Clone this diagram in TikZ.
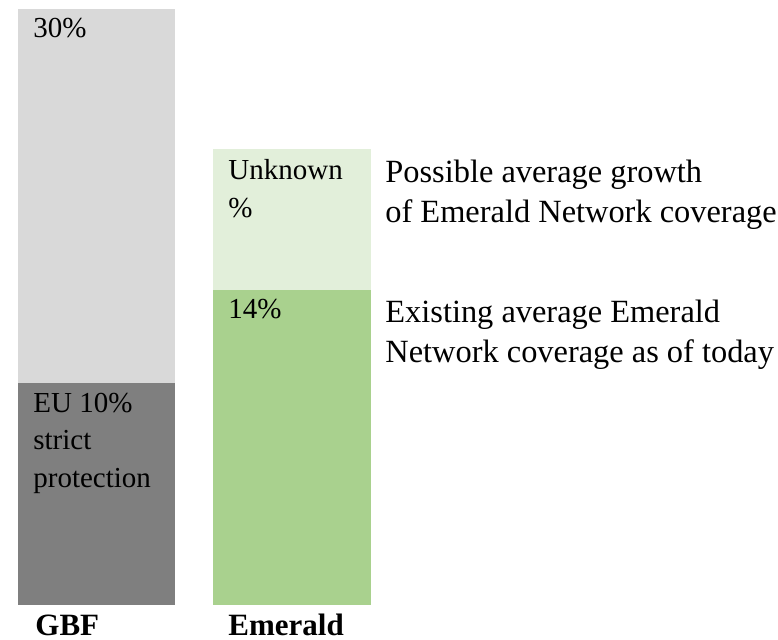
\documentclass[tikz,border=0pt]{standalone}
\usepackage{fontspec}
\setmainfont{Liberation Serif}
\usetikzlibrary{positioning}
\definecolor{gbflight}{HTML}{D9D9D9}
\definecolor{gbfdark}{HTML}{7F7F7F}
\definecolor{emlight}{HTML}{E2EFDA}
\definecolor{emgreen}{HTML}{A9D18E}

\begin{document}
\begin{tikzpicture}[
  x=0.5pt, y=-0.5pt,
  barlabel/.style={anchor=base west, inner sep=0pt, align=left,
    font=\fontsize{14.5}{18.75}\selectfont},
  note/.style={anchor=base west, inner sep=0pt, align=left,
    font=\fontsize{16.2}{20}\selectfont},
  catlabel/.style={anchor=base west, inner sep=0pt,
    font=\fontsize{15.5}{18}\selectfont\bfseries}
]
\useasboundingbox (0,0) rectangle (778,639);

% GBF stack (multi-line labels sit on their last baseline)
\fill[gbflight] (18,9) rectangle (175,383);
\fill[gbfdark] (18,383) rectangle (175,605);
\node[barlabel] (gbftarget) at (33,37) {30\%};
\node[barlabel] (eustrict) at (33,487) {EU 10\%\\strict\\protection};

% Emerald stack
\fill[emlight] (213,149) rectangle (371,290);
\fill[emgreen] (213,290) rectangle (371,605);
\node[barlabel] (emunknown) at (228,217) {Unknown\\\%};
\node[barlabel] (emexisting) at (228,318) {14\%};

% notes beside the Emerald stack
\node[note] (growth) at (385,222)
  {Possible average growth\\of Emerald Network coverage};
\node[note] (existing) at (385,362)
  {Existing average Emerald\\Network coverage as of today};

% category names
\node[catlabel] (gbf) at (35,635) {GBF};
\node[catlabel] (emerald) at (228,635) {Emerald};

\end{tikzpicture}
\end{document}
